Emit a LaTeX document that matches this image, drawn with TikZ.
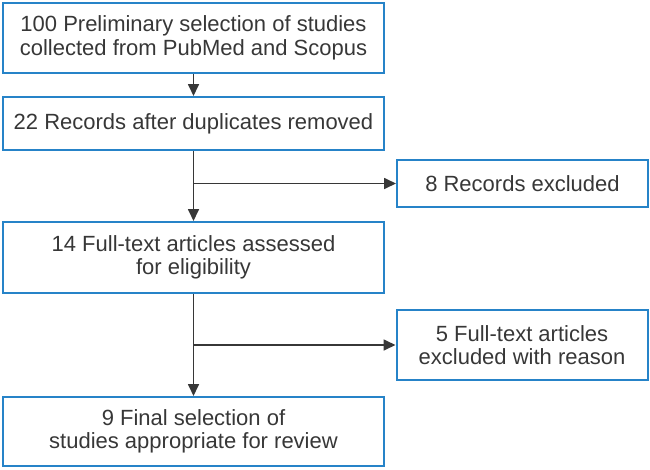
\documentclass[tikz,border=0pt]{standalone}
\usepackage{fontspec}
\setmainfont{Liberation Sans}
\usetikzlibrary{arrows.meta,positioning}
\definecolor{boxblue}{RGB}{38,131,200}
\definecolor{inkgray}{RGB}{55,55,55}

\begin{document}
\begin{tikzpicture}[-{Triangle[length=12pt,width=11pt]}, line width=1.7pt, draw=inkgray,
                    box/.style={rectangle, minimum width=381pt, text centered, draw=boxblue, line width=2pt,
                                text=inkgray, font=\fontsize{22}{23.5}\selectfont, align=center, inner sep=0pt},
                    sidebox/.style={box, minimum width=251pt}]
        \useasboundingbox (0,0) rectangle (650pt,-469pt);
        \node (Prelim) [box, minimum height=70pt] at (193.5pt,-38pt) {100 Preliminary selection of studies\\collected from PubMed and Scopus};
        \node (Records) [box, minimum height=53pt, below of=Prelim, node distance=85.5pt] {22 Records after duplicates removed};
        \node (Assessed) [box, minimum height=71pt, below of=Records, node distance=134pt] {14 Full-text articles assessed\\for eligibility};
        \node (Final) [box, minimum height=69pt, below of=Assessed, node distance=174pt] {9 Final selection of\\studies appropriate for review};
        \node (ExclRecords) [sidebox, minimum height=47pt] at (522.5pt,-183.5pt) {8 Records excluded};
        \node (ExclArticles) [sidebox, minimum height=70pt] at (522pt,-345pt) {5 Full-text articles\\excluded with reason};

        \coordinate (SplitA) at (Records.south |- ExclRecords.west);
        \coordinate (SplitB) at (Assessed.south |- ExclArticles.west);

        \draw[inkgray] (Prelim) -- (Records);
        \draw[inkgray] (Records) -- (Assessed);
        \draw[inkgray] (SplitA) -- (ExclRecords);
        \draw[inkgray] (Assessed) -- (Final);
        \draw[inkgray] (SplitB) -- (ExclArticles);
\end{tikzpicture}
\end{document}
